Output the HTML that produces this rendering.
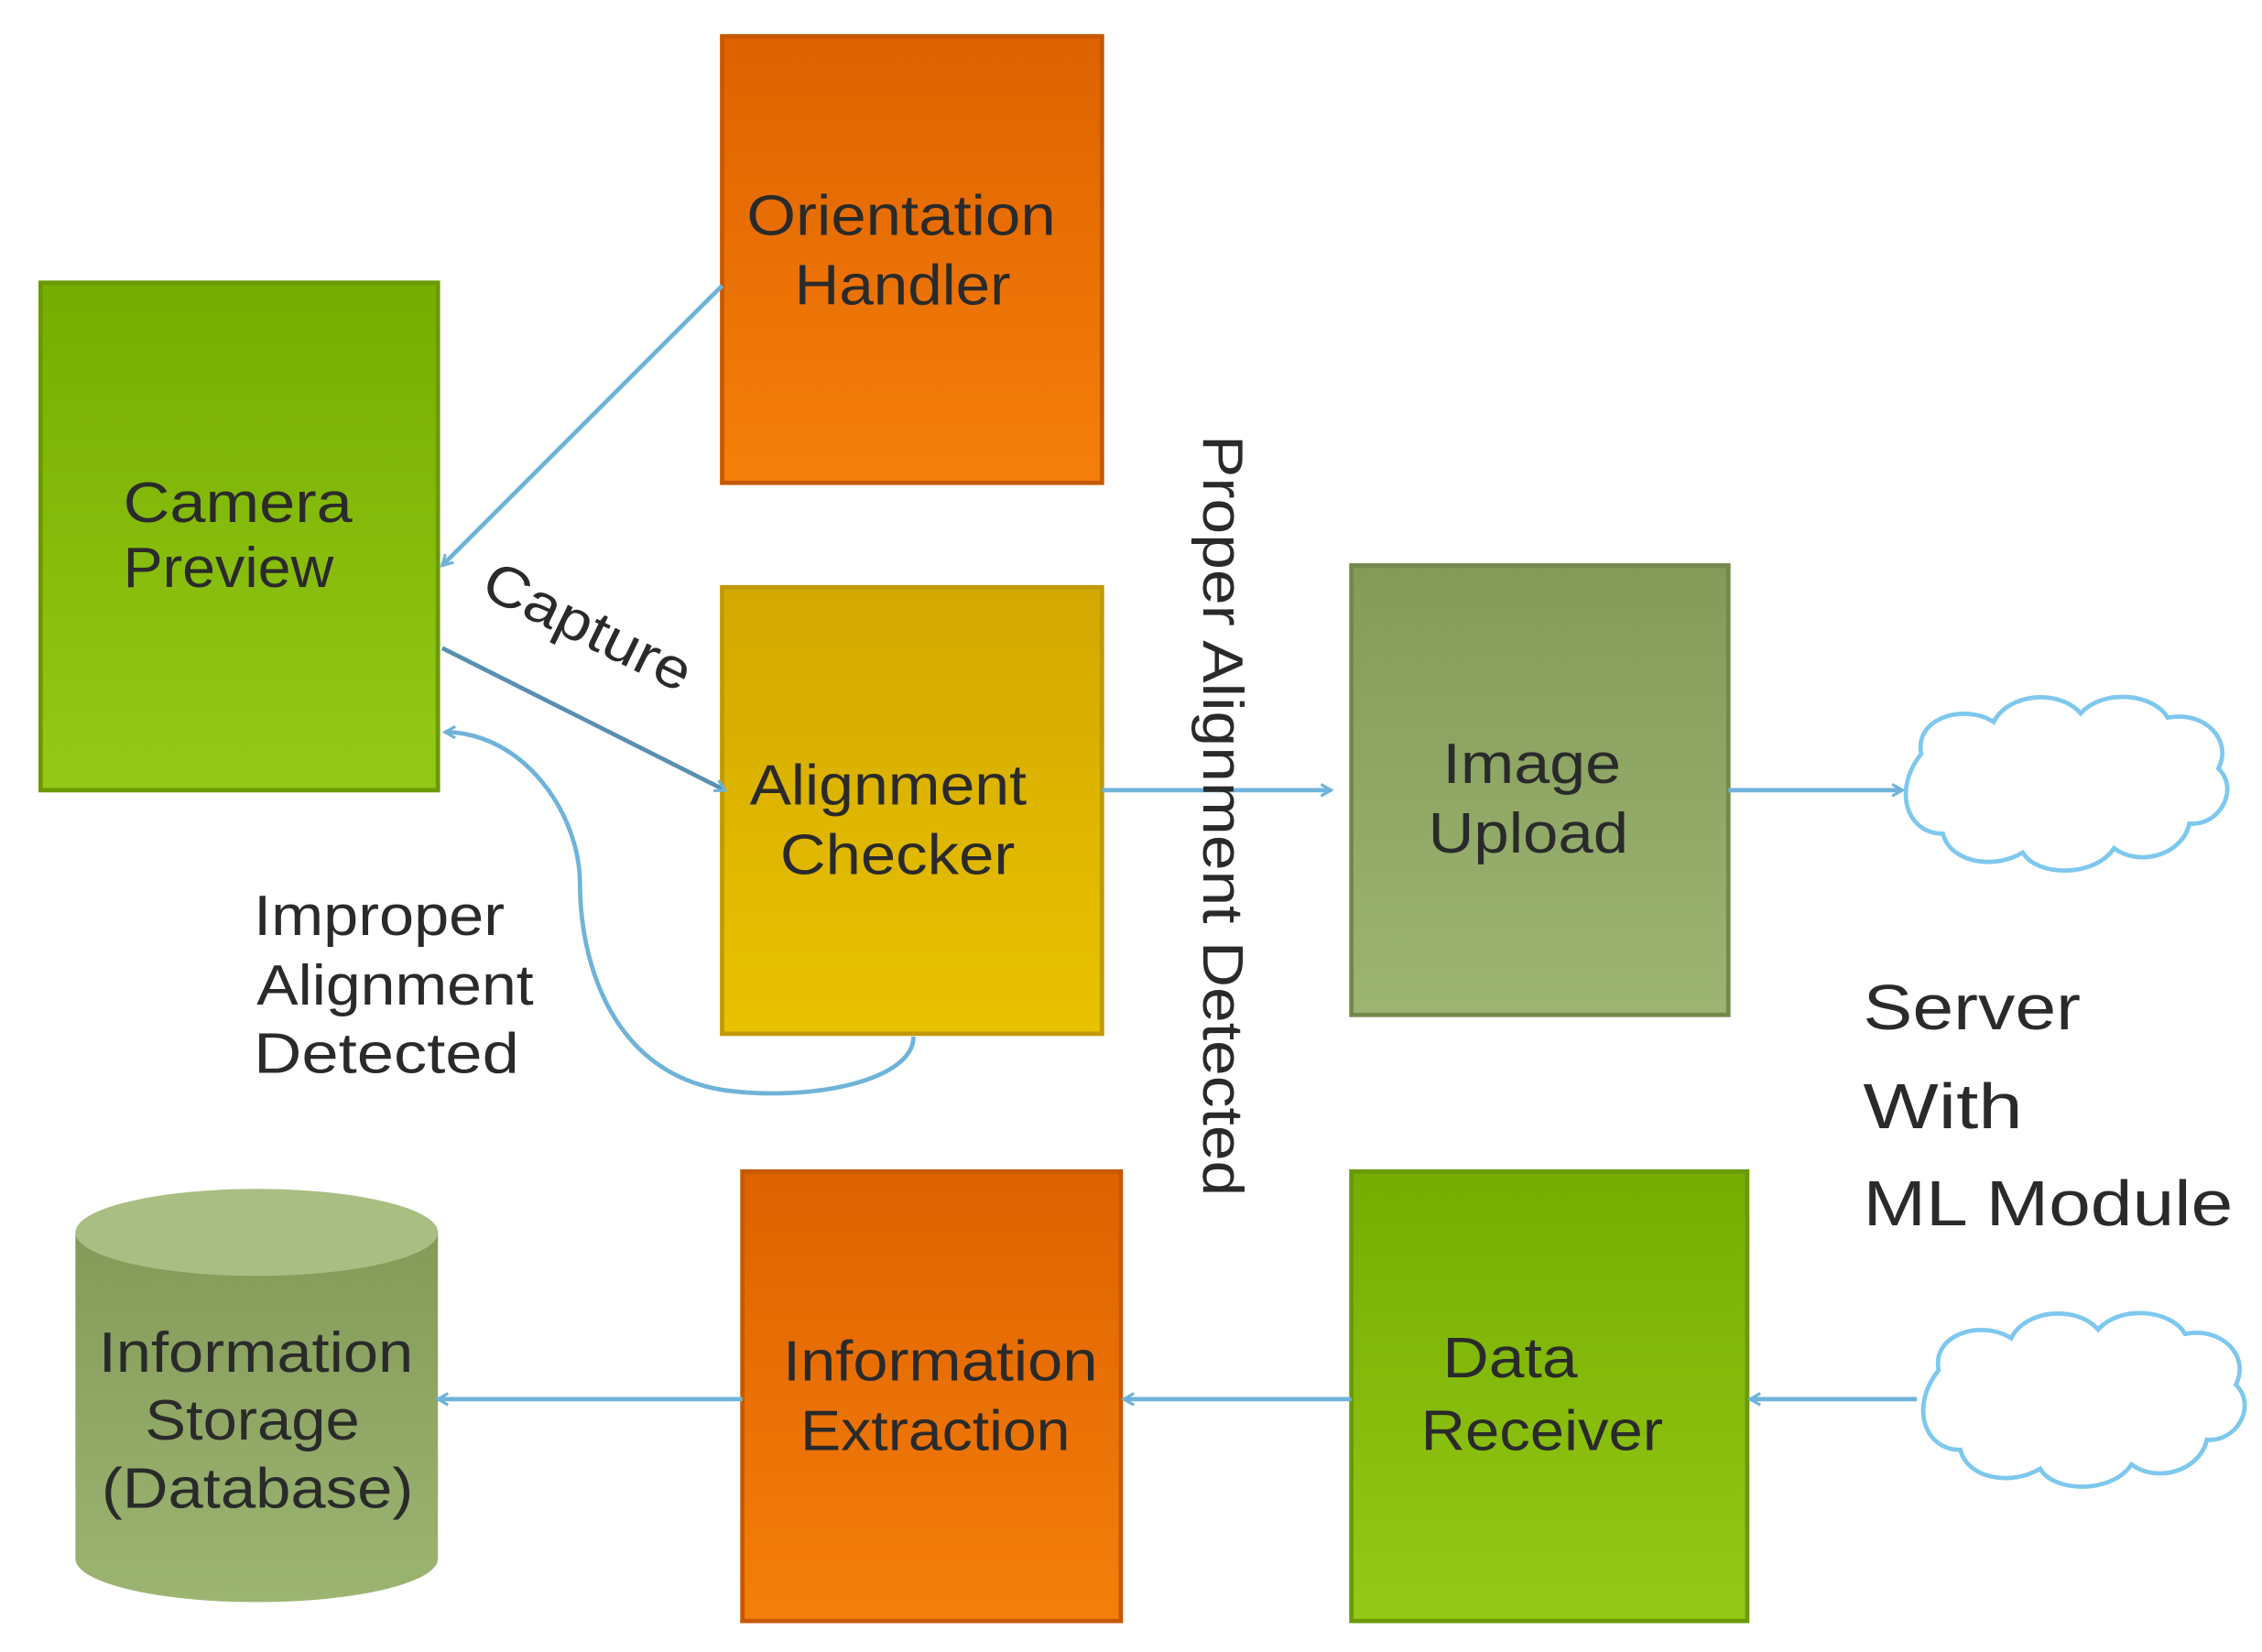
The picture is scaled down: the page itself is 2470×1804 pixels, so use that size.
<!DOCTYPE html>
<html><head><meta charset="utf-8"><style>
html,body{margin:0;padding:0;background:#fff;}
svg{display:block;}
text{font-family:"Liberation Sans",sans-serif;fill:#2a2a2a;}
</style></head><body>
<svg width="2470" height="1804" viewBox="0 0 1560 1139.4" xmlns="http://www.w3.org/2000/svg">
<defs>
<linearGradient id="g" x1="0" y1="0" x2="0" y2="1"><stop offset="0" stop-color="#76ad00"/><stop offset="1" stop-color="#95c917"/></linearGradient>
<linearGradient id="o" x1="0" y1="0" x2="0" y2="1"><stop offset="0" stop-color="#de6200"/><stop offset="1" stop-color="#f57f0a"/></linearGradient>
<linearGradient id="y" x1="0" y1="0" x2="0" y2="1"><stop offset="0" stop-color="#d4a800"/><stop offset="1" stop-color="#e8c200"/></linearGradient>
<linearGradient id="k" x1="0" y1="0" x2="0" y2="1"><stop offset="0" stop-color="#849a58"/><stop offset="1" stop-color="#9cb472"/></linearGradient>
<marker id="a" markerWidth="10" markerHeight="10" refX="8" refY="5" orient="auto" markerUnits="userSpaceOnUse"><path d="M1,1 L8,5 L1,9" fill="none" stroke="#6fb3d9" stroke-width="2"/></marker>
</defs>
<rect x="28" y="195" width="274" height="350" fill="url(#g)" stroke="#6a9a00" stroke-width="3"/>
<rect x="498" y="25" width="262" height="308" fill="url(#o)" stroke="#c85800" stroke-width="3"/>
<rect x="498" y="405" width="262" height="308" fill="url(#y)" stroke="#c09a00" stroke-width="3"/>
<rect x="932" y="390" width="260" height="310" fill="url(#k)" stroke="#74884c" stroke-width="3"/>
<rect x="512" y="808" width="261" height="310" fill="url(#o)" stroke="#c85800" stroke-width="3"/>
<rect x="932" y="808" width="273" height="310" fill="url(#g)" stroke="#6a9a00" stroke-width="3"/>
<path d="M52,850 L52,1075 A125,30 0 0 0 302,1075 L302,850 Z" fill="url(#k)"/>
<ellipse cx="177" cy="850" rx="125" ry="30" fill="#a8be82"/>
<g fill="#fff" stroke="#7ec8ee" stroke-width="3">
<path d="M1325,520 C1320,495 1355,485 1375,498 C1385,478 1420,475 1435,492 C1450,475 1485,478 1495,495 C1520,490 1540,510 1530,530 C1545,545 1530,570 1510,568 C1505,590 1475,598 1458,585 C1445,605 1405,605 1395,588 C1375,600 1345,595 1340,575 C1315,575 1305,545 1325,520 Z"/>
<path d="M1337,945 C1332,920 1367,910 1387,923 C1397,903 1432,900 1447,917 C1462,900 1497,903 1507,920 C1532,915 1552,935 1542,955 C1557,970 1542,995 1522,993 C1517,1015 1487,1023 1470,1010 C1457,1030 1417,1030 1407,1013 C1387,1025 1357,1020 1352,1000 C1327,1000 1317,970 1337,945 Z"/>
</g>
<g stroke="#6fb3d9" stroke-width="3" fill="none">
<line x1="498" y1="197" x2="305" y2="390" marker-end="url(#a)"/>
<line x1="305" y1="447" x2="500" y2="545" stroke="#5a8fb0" marker-end="url(#a)"/>
<line x1="760" y1="545" x2="918" y2="545" marker-end="url(#a)"/>
<line x1="1192" y1="545" x2="1312" y2="545" marker-end="url(#a)"/>
<path d="M630,715 C630,745 560,760 500,752 C420,740 400,660 400,610 C400,560 360,505 307,505" marker-end="url(#a)"/>
<line x1="1322" y1="965" x2="1207" y2="965" marker-end="url(#a)"/>
<line x1="932" y1="965" x2="775" y2="965" marker-end="url(#a)"/>
<line x1="512" y1="965" x2="302" y2="965" marker-end="url(#a)"/>
</g>
<g font-size="39">
<text lengthAdjust="spacingAndGlyphs" x="85" y="360" textLength="158">Camera</text><text lengthAdjust="spacingAndGlyphs" x="85" y="405" textLength="145">Preview</text>
<text lengthAdjust="spacingAndGlyphs" x="515" y="162" textLength="213">Orientation</text><text lengthAdjust="spacingAndGlyphs" x="548" y="210" textLength="149">Handler</text>
<text lengthAdjust="spacingAndGlyphs" x="517" y="555" textLength="191">Alignment</text><text lengthAdjust="spacingAndGlyphs" x="538" y="603" textLength="162">Checker</text>
<text lengthAdjust="spacingAndGlyphs" x="995" y="540" textLength="123">Image</text><text lengthAdjust="spacingAndGlyphs" x="985" y="588" textLength="138">Upload</text>
<text lengthAdjust="spacingAndGlyphs" x="540" y="952" textLength="217">Information</text><text lengthAdjust="spacingAndGlyphs" x="552" y="1000" textLength="186">Extraction</text>
<text lengthAdjust="spacingAndGlyphs" x="995" y="950" textLength="93">Data</text><text lengthAdjust="spacingAndGlyphs" x="980" y="1000" textLength="167">Receiver</text>
<text lengthAdjust="spacingAndGlyphs" x="68" y="946" textLength="217">Information</text><text lengthAdjust="spacingAndGlyphs" x="100" y="993" textLength="148">Storage</text><text lengthAdjust="spacingAndGlyphs" x="70" y="1040" textLength="215">(Database)</text>
<text lengthAdjust="spacingAndGlyphs" x="175" y="645" textLength="173">Improper</text><text lengthAdjust="spacingAndGlyphs" x="177" y="693" textLength="191">Alignment</text><text lengthAdjust="spacingAndGlyphs" x="175" y="740" textLength="183">Detected</text>
<text lengthAdjust="spacingAndGlyphs" transform="translate(330,410) rotate(26)" textLength="155">Capture</text>
<text lengthAdjust="spacingAndGlyphs" transform="translate(830,300) rotate(90)" textLength="525">Proper Alignment Detected</text>
</g>
<g font-size="44" style="fill:#111">
<text lengthAdjust="spacingAndGlyphs" x="1285" y="710" textLength="150">Server</text><text lengthAdjust="spacingAndGlyphs" x="1285" y="778" textLength="110">With</text><text lengthAdjust="spacingAndGlyphs" x="1285" y="845" textLength="255">ML Module</text>
</g>
</svg>
</body></html>
